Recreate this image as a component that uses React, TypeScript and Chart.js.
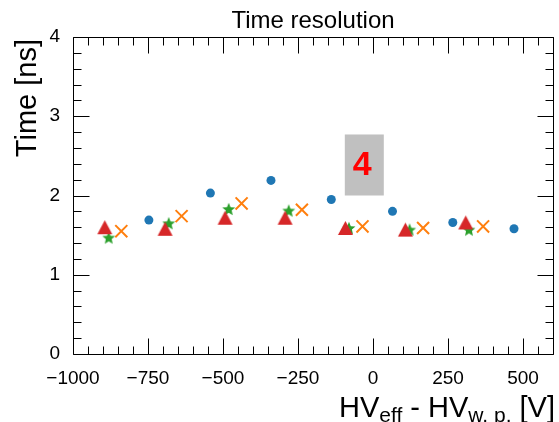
import React, { useEffect, useRef } from 'react';
import { Chart, registerables } from 'chart.js';

Chart.register(...registerables);

// ---- data ----
const blueX = [-747, -542, -340, -139, 65, 266, 470];
const blueY = [1.69, 2.03, 2.19, 1.95, 1.8, 1.66, 1.58];
const redX = [-894, -693, -493, -293, -92, 108, 309];
const redY = [1.6, 1.58, 1.72, 1.72, 1.59, 1.57, 1.66];
const greenX = [-881, -681, -481, -281, -80, 122, 320];
const greenY = [1.47, 1.65, 1.83, 1.81, 1.59, 1.57, 1.57];
const orangeX = [-839, -638, -438, -237, -35, 167, 367];
const orangeY = [1.55, 1.74, 1.9, 1.82, 1.61, 1.59, 1.61];

const xMin = -1000;
const xMax = 600;
const xStep = 250;
const xMinorStep = 50;
const xTickValues = [-1000, -750, -500, -250, 0, 250, 500];
const yMin = 0;
const yMax = 4;
const yStep = 1;
const yMinorStep = 0.2;
const yTickValues = [0, 1, 2, 3, 4];

const boxX = [-94, 36];
const boxY = [2.0, 2.77];
const boxLabel = '4';

const titleText = 'Time resolution';
const yTitleText = 'Time [ns]';
const xTitleParts: [string, boolean][] = [
  ['HV', false],
  ['eff', true],
  [' - HV', false],
  ['w. p.', true],
  [' [V]', false],
];

const FONT = '"Liberation Sans", Arial, Helvetica, sans-serif';

// frame of the plot area in the 559x422 picture
const AREA = { left: 73, right: 553, top: 37, bottom: 354 };

function makeStar(color: string, R: number, ratio: number): HTMLCanvasElement {
  const c = document.createElement('canvas');
  const s = Math.ceil(2 * R + 2);
  c.width = s;
  c.height = s;
  const ctx = c.getContext('2d')!;
  const cx = s / 2;
  const cy = s / 2 + R * (1 - Math.cos(Math.PI / 5)) / 2;
  ctx.beginPath();
  for (let i = 0; i < 10; i++) {
    const r = i % 2 === 0 ? R : R * ratio;
    const a = -Math.PI / 2 + (i * Math.PI) / 5;
    const px = cx + r * Math.cos(a);
    const py = cy + r * Math.sin(a);
    if (i === 0) ctx.moveTo(px, py);
    else ctx.lineTo(px, py);
  }
  ctx.closePath();
  ctx.fillStyle = color;
  ctx.fill();
  return c;
}

function makeTriangle(color: string, w: number, h: number): HTMLCanvasElement {
  const c = document.createElement('canvas');
  c.width = w + 2;
  c.height = h + 2;
  const ctx = c.getContext('2d')!;
  ctx.beginPath();
  ctx.moveTo(1 + w / 2, 1);
  ctx.lineTo(1 + w, 1 + h);
  ctx.lineTo(1, 1 + h);
  ctx.closePath();
  ctx.fillStyle = color;
  ctx.fill();
  return c;
}

const framePlugin = {
  id: 'rootFrame',
  afterLayout(chart: any) {
    const ca = chart.chartArea;
    ca.left = AREA.left;
    ca.right = AREA.right;
    ca.top = AREA.top;
    ca.bottom = AREA.bottom;
    ca.width = AREA.right - AREA.left;
    ca.height = AREA.bottom - AREA.top;
    const xs = chart.scales.x;
    const ys = chart.scales.y;
    xs.left = AREA.left;
    xs.right = AREA.right;
    xs.width = AREA.right - AREA.left;
    xs.top = AREA.bottom;
    xs.bottom = 422;
    xs.height = 422 - AREA.bottom;
    xs.configure();
    ys.top = AREA.top;
    ys.bottom = AREA.bottom;
    ys.height = AREA.bottom - AREA.top;
    ys.left = 0;
    ys.right = AREA.left;
    ys.width = AREA.left;
    ys.configure();
    xs._labelItems = null;
    ys._labelItems = null;
  },
  beforeDatasetsDraw(chart: any) {
    const { ctx } = chart;
    const xs = chart.scales.x;
    const ys = chart.scales.y;
    ctx.save();
    const bx0 = xs.getPixelForValue(boxX[0]);
    const bx1 = xs.getPixelForValue(boxX[1]);
    const by0 = ys.getPixelForValue(boxY[0]);
    const by1 = ys.getPixelForValue(boxY[1]);
    ctx.fillStyle = '#c0c0c0';
    ctx.fillRect(bx0, by1, bx1 - bx0, by0 - by1);
    ctx.fillStyle = '#ff0000';
    ctx.font = `bold 34px ${FONT}`;
    ctx.textAlign = 'center';
    ctx.textBaseline = 'middle';
    ctx.fillText(boxLabel, (bx0 + bx1) / 2 - 2, (by0 + by1) / 2 + 1);
    ctx.restore();
  },
  afterDraw(chart: any) {
    const { ctx, chartArea } = chart;
    const xs = chart.scales.x;
    const ys = chart.scales.y;
    const L = chartArea.left + 0.5;
    const R = chartArea.right + 0.5;
    const T = chartArea.top + 0.5;
    const B = chartArea.bottom + 0.5;
    ctx.save();
    ctx.strokeStyle = '#000';
    ctx.lineWidth = 1;
    ctx.beginPath();
    ctx.rect(L, T, R - L, B - T);
    ctx.stroke();
    const major = 16;
    const minor = 8;
    ctx.beginPath();
    const nx = Math.round((xMax - xMin) / xMinorStep);
    for (let i = 0; i <= nx; i++) {
      const v = xMin + i * xMinorStep;
      const isMajor = Math.abs(v / xStep - Math.round(v / xStep)) < 1e-6;
      const len = isMajor ? major : minor;
      const px = Math.round(xs.getPixelForValue(v)) + 0.5;
      ctx.moveTo(px, B);
      ctx.lineTo(px, B - len);
      ctx.moveTo(px, T);
      ctx.lineTo(px, T + len);
    }
    const ny = Math.round((yMax - yMin) / yMinorStep);
    for (let i = 0; i <= ny; i++) {
      const v = yMin + i * yMinorStep;
      const isMajor = Math.abs(v / yStep - Math.round(v / yStep)) < 1e-6;
      const len = isMajor ? major : minor;
      const py = Math.round(ys.getPixelForValue(v)) + 0.5;
      ctx.moveTo(L, py);
      ctx.lineTo(L + len, py);
      ctx.moveTo(R, py);
      ctx.lineTo(R - len, py);
    }
    ctx.stroke();

    // title
    ctx.fillStyle = '#000';
    ctx.font = `24px ${FONT}`;
    ctx.textAlign = 'center';
    ctx.textBaseline = 'alphabetic';
    ctx.fillText(titleText, (chartArea.left + chartArea.right) / 2, 28);

    // y title
    ctx.save();
    ctx.translate(36, 39);
    ctx.rotate(-Math.PI / 2);
    ctx.font = `29px ${FONT}`;
    ctx.textAlign = 'right';
    ctx.fillText(yTitleText, 0, 0);
    ctx.restore();

    // x title with subscripts
    const mainFont = `29px ${FONT}`;
    const subFont = `21px ${FONT}`;
    let total = 0;
    const widths: number[] = [];
    for (const [t, sub] of xTitleParts) {
      ctx.font = sub ? subFont : mainFont;
      const w = ctx.measureText(t).width;
      widths.push(w);
      total += w;
    }
    let x = 555 - total;
    ctx.textAlign = 'left';
    xTitleParts.forEach(([t, sub], i) => {
      ctx.font = sub ? subFont : mainFont;
      ctx.fillText(t, x, sub ? 422 : 417);
      x += widths[i];
    });
    ctx.restore();
  },
};

export default function App() {
  const ref = useRef<HTMLCanvasElement | null>(null);
  useEffect(() => {
    if (!ref.current) return;
    const star = makeStar('#2ca02c', 6.8, 0.45);
    const tri = makeTriangle('#d62728', 15, 14);
    const pts = (xs: number[], ys: number[]) => xs.map((x, i) => ({ x, y: ys[i] }));
    const chart = new Chart(ref.current, {
      type: 'scatter',
      data: {
        datasets: [
          {
            label: 'orange',
            data: pts(orangeX, orangeY),
            pointStyle: 'crossRot',
            pointRadius: 8.5,
            borderColor: '#ff7f0e',
            backgroundColor: '#ff7f0e',
            borderWidth: 2,
          },
          {
            label: 'red',
            data: pts(redX, redY),
            pointStyle: tri as any,
            pointRadius: 7,
            borderWidth: 0,
            backgroundColor: '#d62728',
          },
          {
            label: 'green',
            data: pts(greenX, greenY),
            pointStyle: star as any,
            pointRadius: 7,
            borderWidth: 0,
            backgroundColor: '#2ca02c',
          },
          {
            label: 'blue',
            data: pts(blueX, blueY),
            pointStyle: 'circle',
            pointRadius: 4.5,
            borderWidth: 0,
            backgroundColor: '#1f77b4',
            borderColor: '#1f77b4',
          },
        ],
      },
      options: {
        animation: false,
        responsive: false,
        events: [],
        layout: { padding: { top: 37, right: 6, left: 0, bottom: 0 } },
        plugins: {
          legend: { display: false },
          title: { display: false },
          tooltip: { enabled: false },
        },
        scales: {
          x: {
            type: 'linear',
            min: xMin,
            max: xMax,
            grid: { display: false, drawTicks: false },
            border: { display: false },
            afterBuildTicks: (s: any) => {
              s.ticks = xTickValues.map((v) => ({ value: v }));
            },
            ticks: {
              padding: 13,
              color: '#000',
              font: { family: FONT, size: 19 },
              maxRotation: 0,
              autoSkip: false,
              callback: (v: any) => {
                const n = Number(v);
                return n < 0 ? '\u2212' + Math.abs(n) : String(n);
              },
            },
          },
          y: {
            type: 'linear',
            min: yMin,
            max: yMax,
            grid: { display: false, drawTicks: false },
            border: { display: false },
            afterBuildTicks: (s: any) => {
              s.ticks = yTickValues.map((v) => ({ value: v }));
            },
            ticks: {
              padding: 13,
              color: '#000',
              font: { family: FONT, size: 19 },
              callback: (v: any) => String(v),
            },
          },
        },
      },
      plugins: [framePlugin],
    });
    return () => chart.destroy();
  }, []);
  return (
    <div style={{ position: 'fixed', left: 0, top: 0, width: 559, height: 422, background: '#fff' }}>
      <canvas ref={ref} width={559} height={422} style={{ display: 'block' }} />
    </div>
  );
}
